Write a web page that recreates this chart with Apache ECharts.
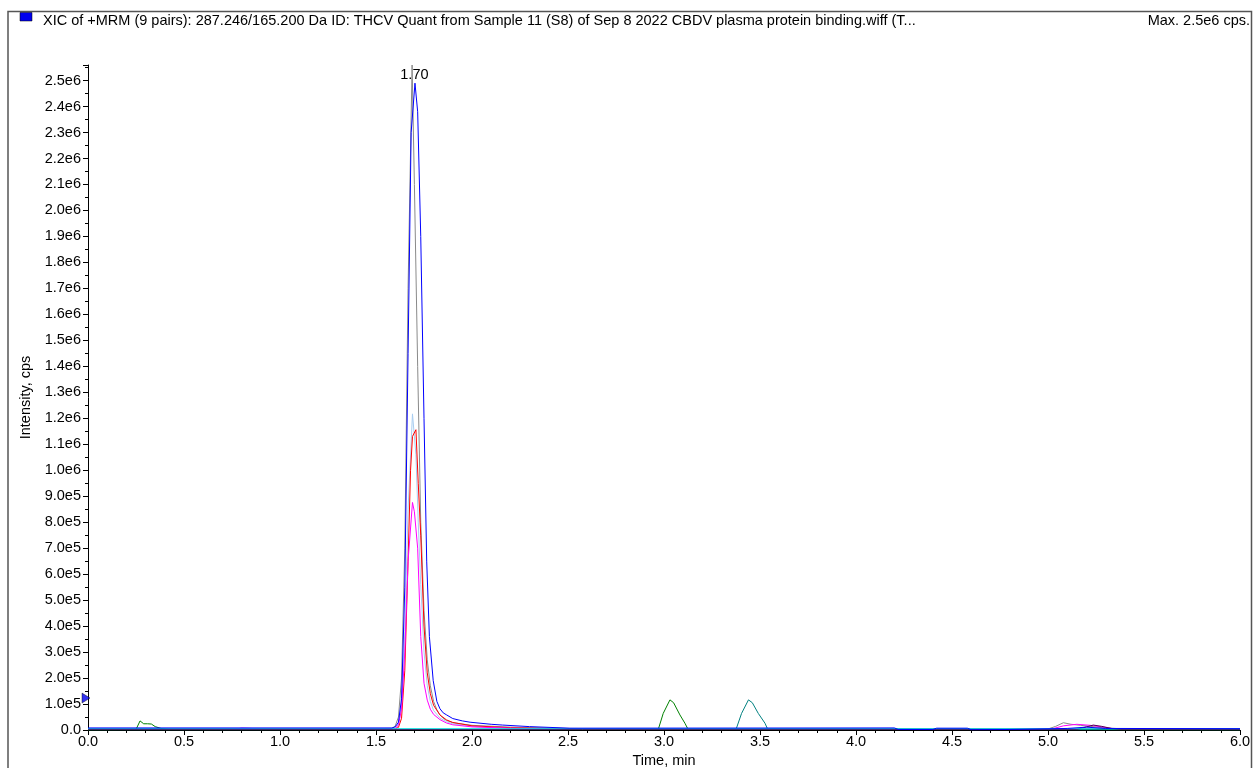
<!DOCTYPE html>
<html><head><meta charset="utf-8">
<script src="https://cdn.jsdelivr.net/npm/echarts@6/dist/echarts.min.js"></script>
<style>html,body{margin:0;padding:0;background:#fff}#c{width:1253px;height:768px}</style>
</head><body><div id="c"></div>
<script>
const titleText = 'XIC of +MRM (9 pairs): 287.246/165.200 Da ID: THCV Quant from Sample 11 (S8) of Sep 8 2022 CBDV plasma protein binding.wiff (T...';
const maxText = 'Max. 2.5e6 cps.';
const peakLabel = '1.70';
const xName = 'Time, min';
const yName = 'Intensity, cps';

// [time (min), intensity (cps)]
const gray = [[0,4e3],[1.2,4e3],[1.583,6e3],[1.6,1.5e4],[1.617,5e4],[1.633,2.0e5],[1.65,7e5],[1.667,1.7e6],[1.688,2.56e6],[1.70,2.1e6],[1.717,1.4e6],[1.733,8.0e5],[1.75,4.6e5],[1.767,2.7e5],[1.783,1.7e5],[1.80,1.1e5],[1.817,7.8e4],[1.833,5.8e4],[1.85,4.5e4],[1.867,3.7e4],[1.9,2.8e4],[2.0,1.8e4],[2.2,1.1e4],[2.5,6e3],[3.0,4e3],[5.0,4e3],[5.04,1.4e4],[5.08,2.8e4],[5.12,2.2e4],[5.17,1.8e4],[5.22,1.4e4],[5.3,8e3],[5.4,4e3],[6.0,4e3]];
const lightBlue = [[0,3e3],[1.58,3e3],[1.6,8e3],[1.617,2.5e4],[1.633,1.0e5],[1.65,3.8e5],[1.667,8.5e5],[1.69,1.217e6],[1.708,1.06e6],[1.72,8.0e5],[1.733,5.6e5],[1.75,3.0e5],[1.767,1.7e5],[1.783,1.1e5],[1.80,7.5e4],[1.833,4.6e4],[1.867,3.2e4],[1.9,2.4e4],[2.0,1.4e4],[2.2,8e3],[2.5,4e3],[6.0,3e3]];
const red = [[0,3e3],[1.6,4e3],[1.617,1.0e4],[1.633,4.5e4],[1.65,2.3e5],[1.667,6.5e5],[1.68,1.0e6],[1.69,1.13e6],[1.708,1.156e6],[1.72,9.5e5],[1.733,7.5e5],[1.75,4.0e5],[1.767,2.2e5],[1.783,1.4e5],[1.80,9.5e4],[1.833,5.8e4],[1.867,3.9e4],[1.9,2.9e4],[2.0,1.6e4],[2.2,9e3],[2.5,4e3],[6.0,3e3]];
const magenta = [[0,2e3],[0.75,2e3],[0.8,7e3],[0.85,6e3],[0.9,2e3],[1.6,4e3],[1.617,2.0e4],[1.633,8e4],[1.65,3.0e5],[1.667,6.5e5],[1.69,8.76e5],[1.70,8.4e5],[1.717,7.0e5],[1.733,3.6e5],[1.75,1.8e5],[1.767,1.15e5],[1.783,8e4],[1.80,6e4],[1.833,4e4],[1.867,2.7e4],[1.9,2e4],[2.0,1.2e4],[2.2,7e3],[2.5,3e3],[5.0,3e3],[5.03,6e3],[5.08,1.6e4],[5.15,2.2e4],[5.22,1.8e4],[5.28,1.2e4],[5.34,5e3],[5.4,3e3],[6.0,3e3]];
const green = [[0,1e3],[0.25,2e3],[0.271,3.5e4],[0.29,2.4e4],[0.31,2.4e4],[0.33,2.3e4],[0.35,1.3e4],[0.38,6e3],[0.42,2e3],[2.97,2e3],[2.996,6.4e4],[3.031,1.16e5],[3.05,1.05e5],[3.083,5.8e4],[3.109,2.6e4],[3.125,3e3],[6.0,1e3]];
const teal = [[0,1e3],[3.375,2e3],[3.404,6.4e4],[3.44,1.16e5],[3.46,1.05e5],[3.491,6.4e4],[3.526,2.6e4],[3.54,3e3],[6.0,1e3]];
const purple = [[0,2e3],[5.15,2e3],[5.2,1.2e4],[5.236,1.9e4],[5.28,1.4e4],[5.33,6e3],[5.38,2e3],[6.0,2e3]];
const blue = [[0,8e3],[1.583,8e3],[1.6,1.2e4],[1.617,3.0e4],[1.633,1.2e5],[1.65,5.5e5],[1.667,1.45e6],[1.683,2.30e6],[1.703,2.49e6],[1.717,2.38e6],[1.733,1.9e6],[1.75,1.2e6],[1.764,6.5e5],[1.778,3.6e5],[1.798,1.9e5],[1.817,1.1e5],[1.833,8.2e4],[1.85,6.6e4],[1.868,5.8e4],[1.9,4.4e4],[1.95,3.5e4],[1.99,3.0e4],[2.1,2.2e4],[2.16,1.9e4],[2.3,1.3e4],[2.51,7e3],[4.2,8e3],[4.22,2e3],[4.4,2e3],[4.42,7e3],[4.58,7e3],[4.6,1e3],[4.8,2e3],[5.1,6e3],[5.2,1.1e4],[5.3,6e3],[6.0,5e3]];
const cyan = [[0,5e3],[6.0,5e3]];
const yMarker = [[0,1.23e5]];

const seriesDefs = [
  ['gray', gray, '#8a8a8a'],
  ['lightBlue', lightBlue, '#a8cdf0'],
  ['red', red, '#ff0000'],
  ['magenta', magenta, '#ff00ff'],
  ['green', green, '#008000'],
  ['teal', teal, '#008080'],
  ['purple', purple, '#500050'],
  ['cyan', cyan, '#00e0e0'],
  ['blue', blue, '#0000ff']
];

function fmtY(v){
  if (v === 0) return '0.0';
  if (v >= 1e6) return (v/1e6).toFixed(1) + 'e6';
  return (v/1e5).toFixed(1) + 'e5';
}

const font = 'Liberation Sans, Arial, sans-serif';
const fs = 14.5;
const chart = echarts.init(document.getElementById('c'), null, {renderer:'canvas'});
const series = seriesDefs.map(d => ({
  name: d[0], type: 'line', data: d[1], showSymbol: false, symbol: 'none',
  lineStyle: {width: 1, color: d[2]}, itemStyle: {color: d[2]},
  silent: true, animation: false, z: 2
}));
series[series.length-1].markPoint = {
  symbol: 'circle', symbolSize: 0,
  data: [{coord: [1.70, 2.52e6], value: peakLabel}],
  label: {show: true, position: 'inside', formatter: peakLabel, color: '#000', fontSize: fs, fontFamily: font},
  animation: false
};
series.push({
  type: 'scatter', data: yMarker, symbol: 'triangle', symbolRotate: -90, symbolSize: [10, 8],
  symbolOffset: [-2, 0], clip: false, z: 5,
  itemStyle: {color: '#0000ee', borderColor: '#000', borderWidth: 0.5}, animation: false
});

chart.setOption({
  animation: false,
  backgroundColor: '#fff',
  grid: {left: 88, right: 13, top: 65, bottom: 38, containLabel: false, outerBoundsMode: 'none'},
  title: [
    {text: titleText, left: 43, top: 13, padding: 0, textStyle: {fontSize: fs, fontWeight: 'normal', color: '#000', fontFamily: font}},
    {text: maxText, right: 3, top: 13, padding: 0, textStyle: {fontSize: fs, fontWeight: 'normal', color: '#000', fontFamily: font}}
  ],
  graphic: [
    {type: 'polyline', shape: {points: [[8, 768], [8, 11.5], [1251.5, 11.5], [1251.5, 768]]}, style: {stroke: '#555', lineWidth: 1.5, fill: null}, silent: true},
    {type: 'rect', shape: {x: 20, y: 12.5, width: 12, height: 8.5}, style: {fill: '#0000ee', stroke: '#000', lineWidth: 0.5}, silent: true}
  ],
  xAxis: {
    type: 'value', min: 0, max: 6, interval: 0.5,
    name: xName, nameLocation: 'middle', nameGap: 15,
    nameTextStyle: {fontSize: fs, color: '#000', fontFamily: font},
    axisLine: {show: true, onZero: false, lineStyle: {color: '#000', width: 1}},
    axisTick: {show: true, inside: false, length: 5, lineStyle: {color: '#000'}},
    minorTick: {show: true, splitNumber: 5, length: 3, lineStyle: {color: '#000'}},
    axisLabel: {fontSize: fs, color: '#000', fontFamily: font, margin: 4, formatter: v => v.toFixed(1)},
    splitLine: {show: false}
  },
  yAxis: {
    type: 'value', min: 0, max: 2.56e6, interval: 1e5,
    name: yName, nameLocation: 'middle', nameGap: 55, nameRotate: 90,
    nameTextStyle: {fontSize: fs, color: '#000', fontFamily: font},
    axisLine: {show: true, lineStyle: {color: '#000', width: 1}},
    axisTick: {show: true, inside: false, length: 5, lineStyle: {color: '#000'}},
    minorTick: {show: true, splitNumber: 2, length: 3, lineStyle: {color: '#000'}},
    axisLabel: {fontSize: fs, color: '#000', fontFamily: font, margin: 7, showMaxLabel: false, formatter: fmtY},
    splitLine: {show: false}
  },
  series: series
});
</script></body></html>
